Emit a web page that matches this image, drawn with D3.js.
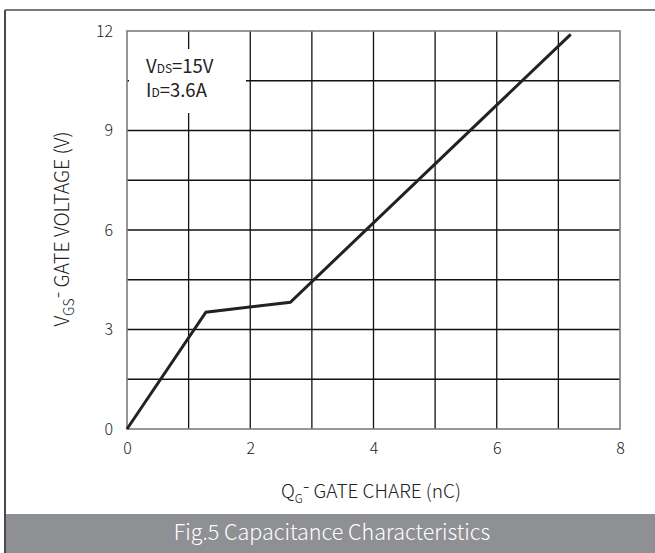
<!DOCTYPE html>
<html>
<head>
<meta charset="utf-8">
<script src="https://cdn.jsdelivr.net/npm/d3@7"></script>
<style>
  body { margin: 0; background: #fff; }
  svg { display: block; }
  .axis text { font-family: "Noto Sans CJK SC", "Noto Sans", sans-serif; font-size: 16px; font-weight: 300; fill: #222; }
  .axis path, .axis line { stroke: none; }
</style>
</head>
<body>
<script>
// gate charge curve
var qg = [0, 1.28, 2.65, 7.2];
var vgs = [0, 3.52, 3.82, 11.9];

var xTicks = [0, 2, 4, 6, 8];
var yTicks = [0, 3, 6, 9, 12];
var xGrid = [1, 2, 3, 4, 5, 6, 7];
var yGrid = [1.5, 3, 4.5, 6, 7.5, 9, 10.5];

var margin = {top: 31, right: 35, bottom: 124, left: 127};
var W = 655, H = 553;
var width = W - margin.left - margin.right;
var height = H - margin.top - margin.bottom;

var x = d3.scaleLinear().domain([0, 8]).range([0, width]);
var y = d3.scaleLinear().domain([0, 12]).range([height, 0]);

var svg = d3.select('body').append('svg')
  .attr('width', W)
  .attr('height', H);

var tfont = '"Noto Sans CJK SC", "Noto Sans", sans-serif';

// outer frame
svg.append('line')
  .attr('x1', 5).attr('x2', W).attr('y1', 10).attr('y2', 10)
  .attr('stroke', '#7a7a7a').attr('stroke-width', 2);
svg.append('line')
  .attr('x1', 5).attr('x2', 5).attr('y1', 10).attr('y2', H)
  .attr('stroke', '#4a4a4a').attr('stroke-width', 2);

// caption band
svg.append('rect')
  .attr('x', 6).attr('y', 514).attr('width', W - 6).attr('height', H - 514)
  .attr('fill', '#8f9094');
svg.append('text')
  .attr('x', 332).attr('y', 540)
  .attr('text-anchor', 'middle')
  .style('font-family', tfont)
  .style('font-size', '21.5px')
  .style('font-weight', 300)
  .style('fill', '#fff')
  .text('Fig.5 Capacitance Characteristics');

var main = svg.append('g')
  .attr('transform', 'translate(' + margin.left + ',' + margin.top + ')');

// grid
main.append('g').selectAll('line')
  .data(xGrid)
  .enter().append('line')
  .attr('x1', function(d) { return x(d); })
  .attr('x2', function(d) { return x(d); })
  .attr('y1', 0).attr('y2', height)
  .attr('stroke', '#111').attr('stroke-width', 1.3);

main.append('g').selectAll('line')
  .data(yGrid)
  .enter().append('line')
  .attr('x1', 0).attr('x2', width)
  .attr('y1', function(d) { return y(d); })
  .attr('y2', function(d) { return y(d); })
  .attr('stroke', '#111').attr('stroke-width', 1.3);

// plot border
main.append('rect')
  .attr('width', width).attr('height', height)
  .attr('fill', 'none')
  .attr('stroke', '#7d7d7d').attr('stroke-width', 1.6);

// annotation box
main.append('rect')
  .attr('x', 2).attr('y', 18).attr('width', 117).attr('height', 64)
  .attr('fill', '#fff');

var note = main.append('g')
  .style('font-family', tfont)
  .style('fill', '#222');
var n1 = note.append('text').attr('x', 19).attr('y', 42).style('font-size', '18.5px');
n1.append('tspan').text('V');
n1.append('tspan').style('font-size', '12px').text('DS');
n1.append('tspan').text('=15V');
var n2 = note.append('text').attr('x', 19).attr('y', 66).style('font-size', '18.5px');
n2.append('tspan').text('I');
n2.append('tspan').style('font-size', '12px').text('D');
n2.append('tspan').text('=3.6A');

// axes (labels only)
main.append('g')
  .attr('class', 'axis')
  .attr('transform', 'translate(0,' + height + ')')
  .call(d3.axisBottom(x).tickValues(xTicks).tickSize(0).tickPadding(13.5));

main.append('g')
  .attr('class', 'axis')
  .call(d3.axisLeft(y).tickValues(yTicks).tickSize(0).tickPadding(14));

// curve
var pts = qg.map(function(d, i) { return [d, vgs[i]]; });
main.append('path')
  .datum(pts)
  .attr('fill', 'none')
  .attr('stroke', '#222')
  .attr('stroke-width', 3)
  .attr('stroke-linejoin', 'miter')
  .attr('d', d3.line()
    .x(function(d) { return x(d[0]); })
    .y(function(d) { return y(d[1]); }));

// axis titles
var xt = svg.append('text')
  .attr('x', 371).attr('y', 498)
  .attr('text-anchor', 'middle')
  .style('font-family', tfont)
  .style('font-size', '19px')
  .style('font-weight', 300)
  .style('fill', '#222');
xt.append('tspan').text('Q');
xt.append('tspan').style('font-size', '12px').attr('dy', 5).text('G');
xt.append('tspan').attr('dy', -10).text('-');
xt.append('tspan').attr('dy', 5).text(' GATE CHARE (nC)');

var yt = svg.append('text')
  .attr('transform', 'translate(69,229) rotate(-90)')
  .attr('text-anchor', 'middle')
  .style('font-family', tfont)
  .style('font-size', '19.5px')
  .style('font-weight', 300)
  .style('fill', '#222');
yt.append('tspan').text('V');
yt.append('tspan').style('font-size', '14px').attr('dy', 5).text('GS');
yt.append('tspan').attr('dy', -10).text('-');
yt.append('tspan').attr('dy', 5).text(' GATE VOLTAGE  (V)');
</script>
</body>
</html>
